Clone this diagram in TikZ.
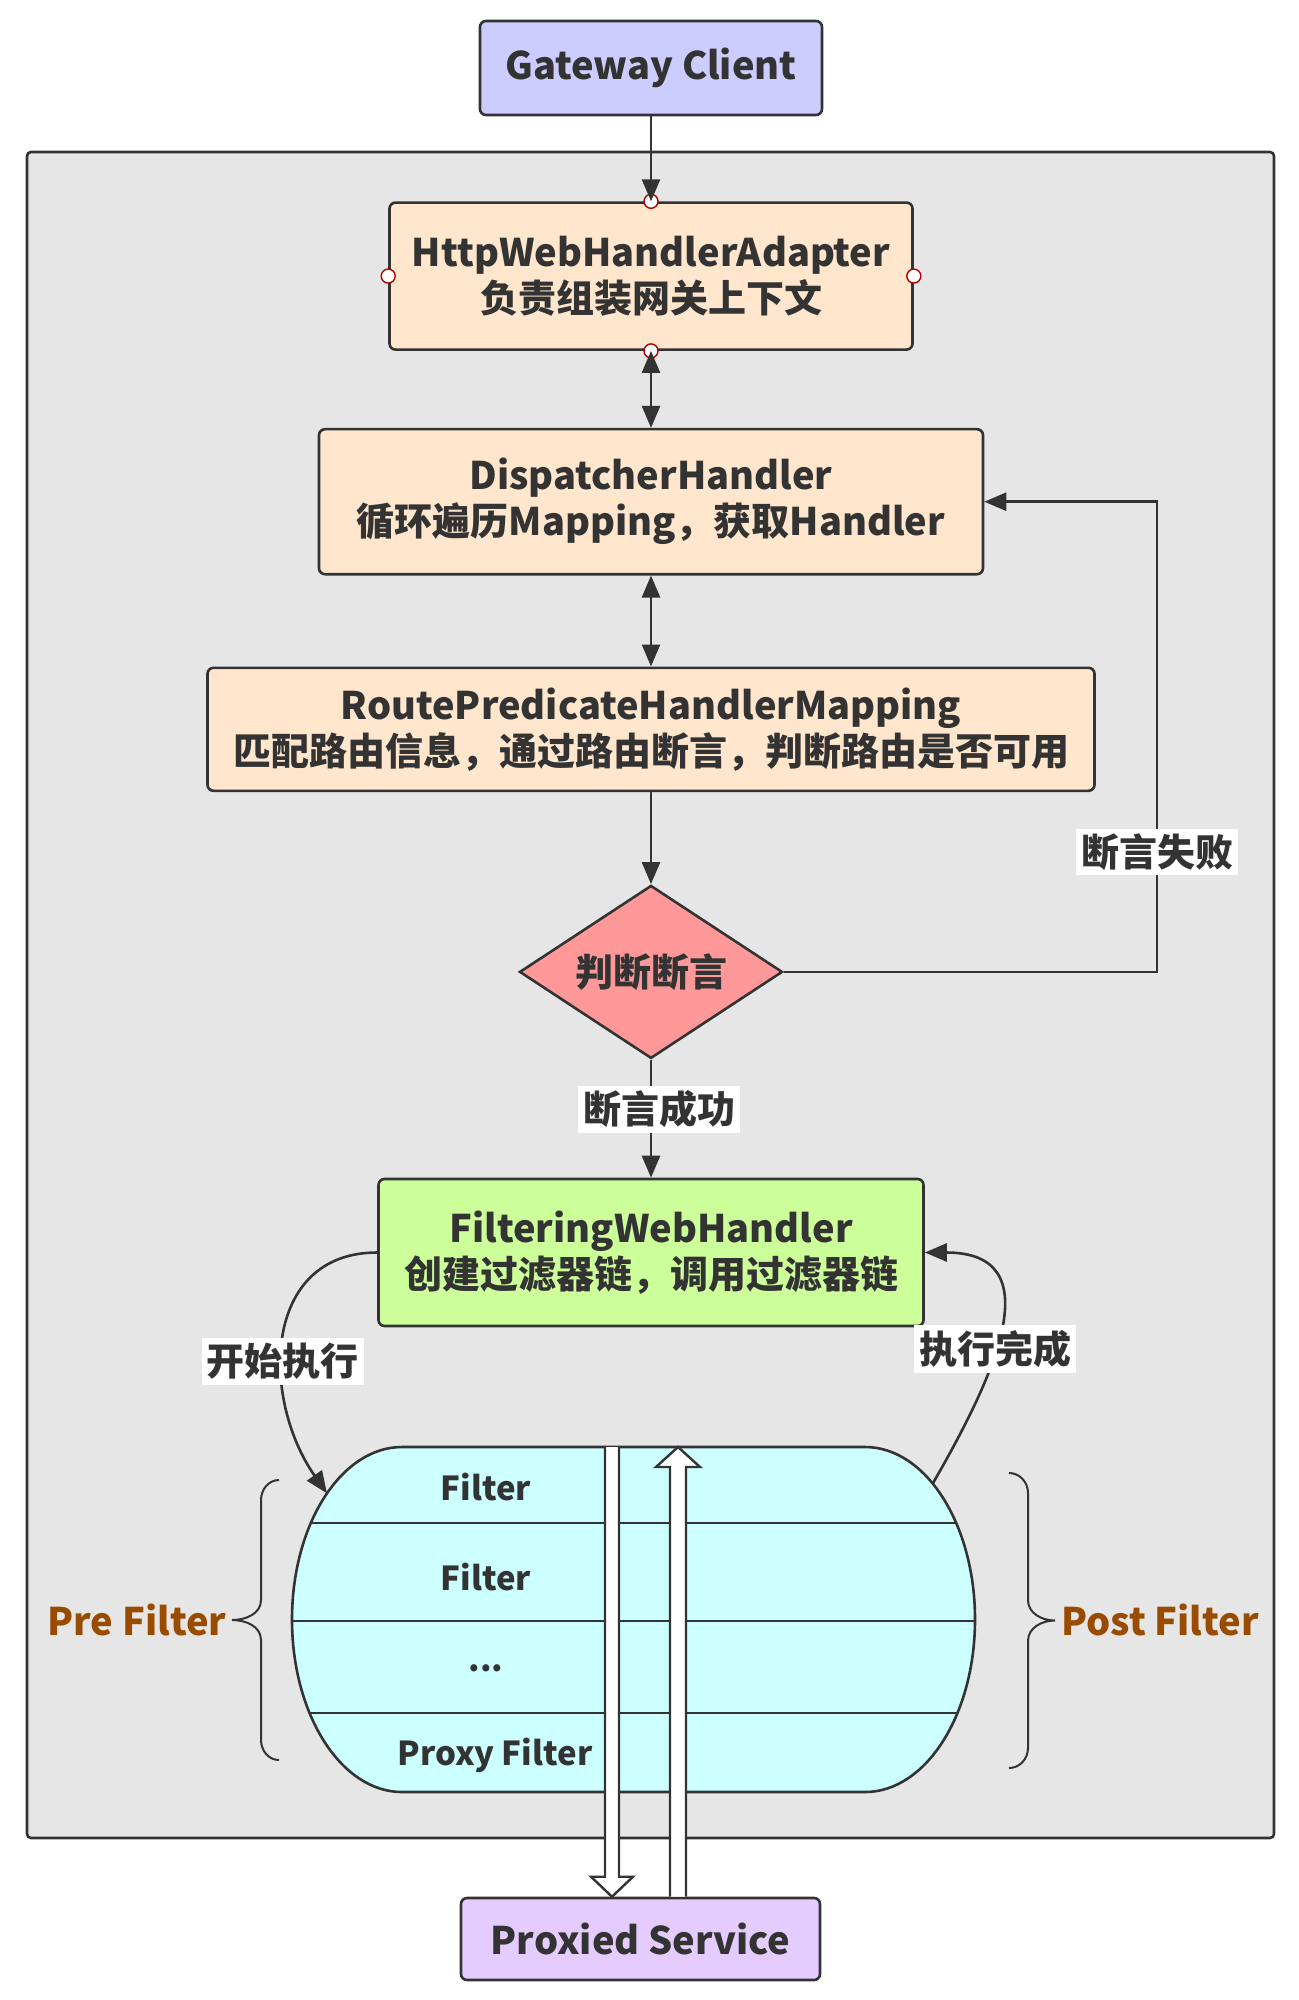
\documentclass[tikz,border=0pt]{standalone}
\usepackage{fontspec}
\setmainfont{Noto Sans CJK SC}
\usepackage{tikz}
\usetikzlibrary{arrows.meta,positioning,shapes.geometric,calc}

\definecolor{ink}{HTML}{333333}
\definecolor{grpgray}{HTML}{E6E6E6}
\definecolor{gwblue}{HTML}{CCCCFF}
\definecolor{peach}{HTML}{FFE6CC}
\definecolor{rosered}{HTML}{FF9999}
\definecolor{limegreen}{HTML}{CCFF99}
\definecolor{filtcyan}{HTML}{CCFFFF}
\definecolor{svcviolet}{HTML}{E5CCFF}
\definecolor{bracebrown}{HTML}{994C00}
\definecolor{portred}{HTML}{B20000}

\begin{document}
\begin{tikzpicture}[x=0.5pt, y=0.5pt,
		>={Triangle[length=11pt, width=9pt]},
		line width=1.3pt,
		every node/.append style={text=ink},
		big/.style={font=\bfseries\fontsize{19}{23}\selectfont},
		box/.style={big, draw=ink, rounded corners=3pt, align=center, inner sep=2pt},
		lbl/.style={big, fill=white, inner sep=2.5pt},
		link/.style={draw=ink, ->},
		port/.style={draw=portred, fill=white, line width=0.7pt},
		hollow/.style={draw=ink, fill=white, line width=1.2pt},
		curly/.style={draw=ink, line width=1pt},
		brlabel/.style={big, text=bracebrown},
		item/.style={font=\bfseries\fontsize{16.5}{20}\selectfont}
		]
		\useasboundingbox (0,0) rectangle (1298,-2000);
		
		% grey group frame
		\node (grp) [draw=ink, fill=grpgray, rounded corners=2pt, minimum width=623.5pt, minimum height=843pt] at (650.5,-995) {};
		
		\node (gw) [box, fill=gwblue, minimum width=171pt, minimum height=47pt] at (651,-68) {Gateway Client};
		\node (http) [box, fill=peach, below=42.5pt of gw, minimum width=261.5pt, minimum height=73.5pt] {HttpWebHandlerAdapter\\负责组装网关上下文};
		\node (disp) [box, fill=peach, below=38.5pt of http, minimum width=332pt, minimum height=72.5pt] {DispatcherHandler\\循环遍历Mapping，获取Handler};
		\node (route) [box, fill=peach, below=45.5pt of disp, minimum width=443.5pt, minimum height=61.5pt] {RoutePredicateHandlerMapping\\匹配路由信息，通过路由断言，判断路由是否可用};
		\node (dia) [big, diamond, aspect=1.5, draw=ink, fill=rosered, inner sep=1pt, below=46pt of route, minimum width=131.5pt, minimum height=86.5pt] {判断断言};
		\node (filt) [box, fill=limegreen, below=59pt of dia, minimum width=272.5pt, minimum height=73.5pt] {FilteringWebHandler\\创建过滤器链，调用过滤器链};
		\node (px) [box, fill=svcviolet, minimum width=179.5pt, minimum height=41pt] at (640.5,-1939) {Proxied Service};
		
		% connection points of the adapter
		\foreach \a in {north,south,east,west}
		\draw[port] (http.\a) circle (3.5pt);
		
		\draw[link] (gw) -- (http);
		\draw[link, <->] (http) -- (disp);
		\draw[link, <->] (disp) -- (route);
		\draw[link] (route) -- (dia);
		\draw[link] (dia) -- node[lbl, xshift=4pt, pos=0.42] {断言成功} (filt);
		\coordinate (fb) at (1157,-852);
		\draw[link] (dia.east) -| (fb) node[lbl] {断言失败} |- (disp.east);
		
		% filter chain body
		\coordinate (lc) at (402,-1619.5);
		\coordinate (rc) at (865,-1619.5);
		\filldraw[draw=ink, fill=filtcyan] (402,-1447) -- (865,-1447)
		arc[start angle=90, end angle=-90, x radius=110, y radius=172.5] -- (402,-1792)
		arc[start angle=270, end angle=90, x radius=110, y radius=172.5] -- cycle;
		\begin{scope}
			\clip (402,-1447) -- (865,-1447)
			arc[start angle=90, end angle=-90, x radius=110, y radius=172.5] -- (402,-1792)
			arc[start angle=270, end angle=90, x radius=110, y radius=172.5] -- cycle;
			\foreach \y in {-1523,-1621,-1713}
			\draw[ink] (250,\y) -- (1000,\y);
		\end{scope}
		\node (f1) [item] at (486,-1487) {Filter};
		\node (f2) [item] at (486,-1577) {Filter};
		\node (f3) [item] at (486,-1668) {...};
		\node (f4) [item] at (495,-1755) {Proxy Filter};
		
		\coordinate (fin) at ($(lc)+(133:110 and 172.5)$);
		\coordinate (fout) at ($(rc)+(52:110 and 172.5)$);
		\draw[link] (filt.west) to[out=180, in=125, looseness=1.2] node[lbl, pos=0.58] {开始执行} (fin);
		\draw[link] (fout) to[out=60, in=0, looseness=1.4] node[lbl, pos=0.42] {执行完成} (filt.east);
		
		% request / response arrows
		\coordinate (dtop) at (612,-1447);
		\coordinate (utop) at (678,-1447);
		\filldraw[hollow] ($(dtop)+(-7,0)$) -- ($(dtop |- px.north)+(-7,20)$) -- ($(dtop |- px.north)+(-21,20)$)
		-- (dtop |- px.north) -- ($(dtop |- px.north)+(21,20)$) -- ($(dtop |- px.north)+(7,20)$) -- ($(dtop)+(7,0)$);
		\filldraw[hollow] ($(utop |- px.north)+(-8,0)$) -- ($(utop)+(-8,-20)$) -- ($(utop)+(-22,-20)$)
		-- (utop) -- ($(utop)+(22,-20)$) -- ($(utop)+(8,-20)$) -- ($(utop |- px.north)+(8,0)$);
		
		% pre / post braces
		\draw[curly] (279,-1480) to[out=180,in=90] (261,-1500) -- (261,-1600) to[out=-90,in=0] (232,-1620)
		to[out=0,in=90] (261,-1640) -- (261,-1740) to[out=-90,in=180] (279,-1760);
		\draw[curly] (1009,-1473) to[out=0,in=90] (1028,-1493) -- (1028,-1600) to[out=-90,in=180] (1055,-1620.5)
		to[out=180,in=90] (1028,-1641) -- (1028,-1748) to[out=-90,in=0] (1009,-1768);
		\node (pre) [brlabel] at (137,-1620) {Pre Filter};
		\node (post) [brlabel] at (1160,-1620) {Post Filter};
		
\end{tikzpicture}
\end{document}
